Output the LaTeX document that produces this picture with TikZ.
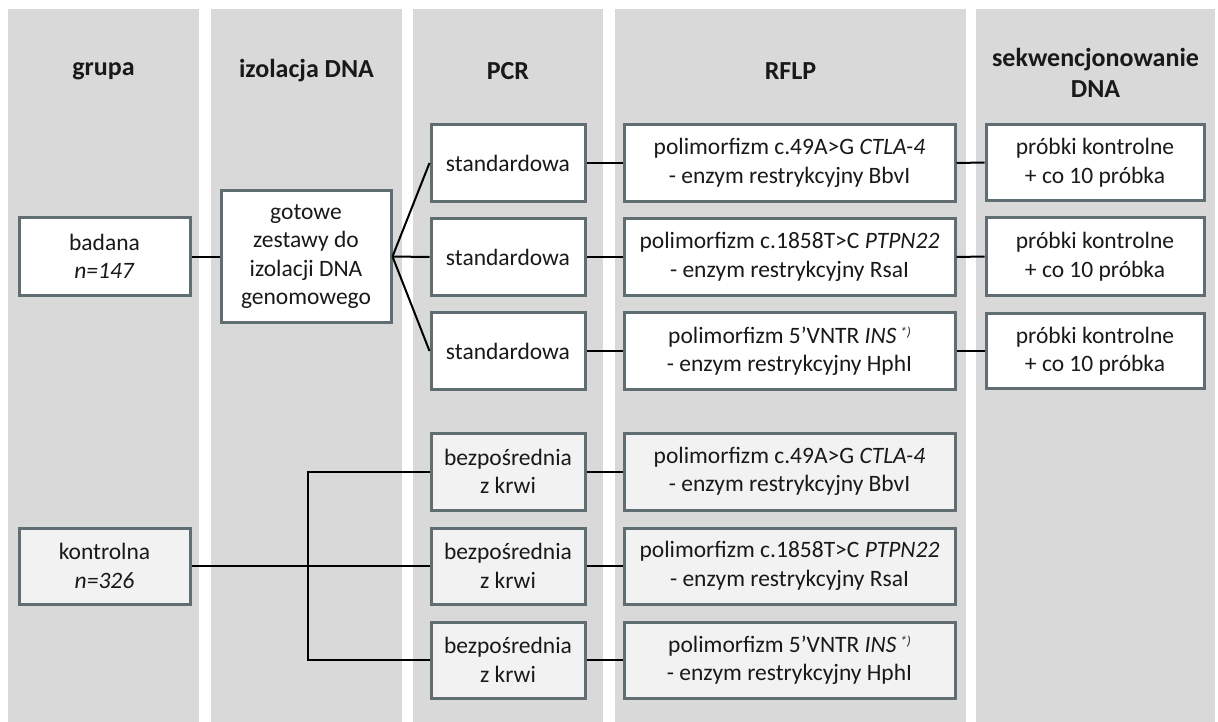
\documentclass[tikz,border=0pt]{standalone}
\usepackage{fontspec}
\setmainfont{Carlito}
\definecolor{colbg}{RGB}{217,217,217}
\definecolor{boxline}{RGB}{96,110,115}
\definecolor{lowfill}{RGB}{242,242,242}
\definecolor{txt}{RGB}{25,25,25}
\begin{document}
\begin{tikzpicture}[x=1pt,y=-1pt,
  colbox/.style={fill=colbg,draw=none},
  head/.style={font=\fontsize{26}{31}\selectfont\bfseries,text=txt,align=center},
  box/.style={draw=boxline,line width=3pt,fill=white,align=center,inner sep=1pt,
    font=\fontsize{23.5}{28.5}\selectfont,text=txt},
  lowbox/.style={box,fill=lowfill},
  conn/.style={line width=2pt,black}]
\useasboundingbox (0,0) rectangle (1218,722);
\fill[white] (0,0) rectangle (1218,722);
% columns
\fill[colbox] (8,9) rectangle (199,722);
\fill[colbox] (211,9) rectangle (402,722);
\fill[colbox] (413,9) rectangle (603,722);
\fill[colbox] (615,9) rectangle (966,722);
\fill[colbox] (976,9) rectangle (1215,722);
% headers
\node[head] (h1) at (103.5,71) {grupa};
\node[head] (h2) at (306.5,71) {izolacja DNA};
\node[head] (h3) at (508,71) {PCR};
\node[head] (h4) at (790.5,71) {RFLP};
\node[head] (h5) at (1095.5,73) {sekwencjonowanie\\DNA};
% boxes upper
\node[box,minimum width=171,minimum height=77] (bad) at (104.5,256.5) {badana\\\textit{n=147}};
\node[box,minimum width=170,minimum height=131] (got) at (306,256.5) {gotowe\\zestawy do\\izolacji DNA\\genomowego};
\node[box,minimum width=154,minimum height=77] (s1) at (508,163) {standardowa};
\node[box,minimum width=154,minimum height=77] (s2) at (508,257) {standardowa};
\node[box,minimum width=154,minimum height=77] (s3) at (508,351) {standardowa};
\node[box,minimum width=331,minimum height=77] (r1) at (789.5,163) {polimorfizm c.49A>G \textit{CTLA-4}\\- enzym restrykcyjny BbvI};
\node[box,minimum width=331,minimum height=77] (r2) at (789.5,257) {polimorfizm c.1858T>C \textit{PTPN22}\\- enzym restrykcyjny RsaI};
\node[box,minimum width=331,minimum height=77] (r3) at (789.5,351) {polimorfizm 5’VNTR \textit{INS}\,\raisebox{0.55ex}{\fontsize{13}{13}\selectfont\itshape *)}\\- enzym restrykcyjny HphI};
\node[box,minimum width=218,minimum height=76] (q1) at (1095,162.5) {próbki kontrolne\\+ co 10 próbka};
\node[box,minimum width=218,minimum height=77] (q2) at (1095,256.5) {próbki kontrolne\\+ co 10 próbka};
\node[box,minimum width=218,minimum height=75] (q3) at (1095,351) {próbki kontrolne\\+ co 10 próbka};
% boxes lower
\node[lowbox,minimum width=171,minimum height=76] (kon) at (104.5,566) {kontrolna\\\textit{n=326}};
\node[lowbox,minimum width=154,minimum height=77] (b1) at (508,471.5) {bezpośrednia\\z krwi};
\node[lowbox,minimum width=154,minimum height=76] (b2) at (508,566) {bezpośrednia\\z krwi};
\node[lowbox,minimum width=154,minimum height=76] (b3) at (508,660) {bezpośrednia\\z krwi};
\node[lowbox,minimum width=331,minimum height=77] (l1) at (789.5,471.5) {polimorfizm c.49A>G \textit{CTLA-4}\\- enzym restrykcyjny BbvI};
\node[lowbox,minimum width=331,minimum height=76] (l2) at (789.5,566) {polimorfizm c.1858T>C \textit{PTPN22}\\- enzym restrykcyjny RsaI};
\node[lowbox,minimum width=331,minimum height=76] (l3) at (789.5,660) {polimorfizm 5’VNTR \textit{INS}\,\raisebox{0.55ex}{\fontsize{13}{13}\selectfont\itshape *)}\\- enzym restrykcyjny HphI};
\coordinate (j) at (308,566);
% connectors
\draw[conn] (bad.east) -- (got.west);
\draw[conn] (got.east) -- (s1.west);
\draw[conn] (got.east) -- (s2.west);
\draw[conn] (got.east) -- (s3.west);
\draw[conn] (s1.east) -- (r1.west);
\draw[conn] (s2.east) -- (r2.west);
\draw[conn] (s3.east) -- (r3.west);
\draw[conn] (r1.east) -- (q1.west);
\draw[conn] (r2.east) -- (q2.west);
\draw[conn] (r3.east) -- (q3.west);
\draw[conn] (kon.east) -- (b2.west);
\draw[conn] (b1.west) -- (b1.west -| j) -- (b3.west -| j) -- (b3.west);
\draw[conn] (b1.east) -- (l1.west);
\draw[conn] (b2.east) -- (l2.west);
\draw[conn] (b3.east) -- (l3.west);
\end{tikzpicture}
\end{document}
